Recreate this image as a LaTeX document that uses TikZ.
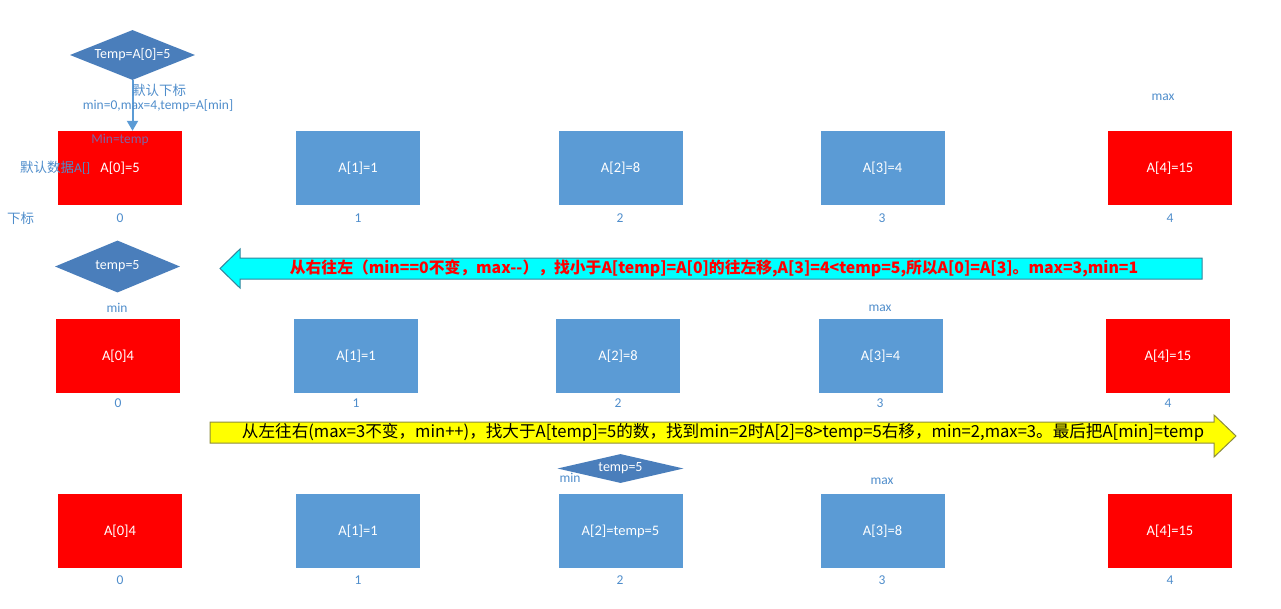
\documentclass[tikz,border=0pt]{standalone}
\usepackage{fontspec}
\setmainfont{Carlito}
\newfontfamily\cjk{Noto Sans CJK SC}
\usetikzlibrary{shapes.geometric,arrows.meta}
\definecolor{boxblue}{RGB}{91,155,213}
\definecolor{diablue}{RGB}{74,126,187}
\definecolor{labelblue}{RGB}{79,141,203}
\definecolor{minpurple}{RGB}{128,100,162}
\definecolor{arrowcyan}{RGB}{0,255,255}
\definecolor{cyanline}{RGB}{49,133,156}
\definecolor{arrowyellow}{RGB}{255,255,0}
\definecolor{yellowline}{RGB}{140,140,60}
\begin{document}
\begin{tikzpicture}[x=1pt, y=-1pt]
    \tikzset{cell/.style={%
      rectangle,%
      minimum width=124pt,%
      minimum height=74pt,%
      inner sep=0pt,%
      text=white,%
      font=\fontsize{14.5}{16}\selectfont}%
    };
\tikzset{bluecell/.style={cell, fill=boxblue}};
\tikzset{redcell/.style={cell, fill=red}};
\tikzset{tempdia/.style={diamond, fill=diablue, inner sep=0pt, text=white, font=\fontsize{14}{16}\selectfont}};
\tikzset{note/.style={text=labelblue, inner sep=0pt, font=\fontsize{13.5}{15}\selectfont}};

\useasboundingbox (0,0) rectangle (1281,608);

%first row
\node[tempdia, aspect=2.5, minimum width=125pt, minimum height=50pt] (temp0) at (132.5,55) {Temp=A[0]=5};
\node[redcell] (a00) at (120,168) {A[0]=5};
\node[bluecell] (a01) at (358,168) {A[1]=1};
\node[bluecell] (a02) at (620.5,168) {A[2]=8};
\node[bluecell] (a03) at (882.5,168) {A[3]=4};
\node[redcell] (a04) at (1170,168) {A[4]=15};

\draw[boxblue, line width=2pt, -{Triangle[length=10pt,width=11pt]}] (temp0.south) -- (temp0.south |- a00.north);
\node[note, anchor=west] (defidx) at (132,90) {\cjk 默认下标};
\node[note] (defval) at (158,106) {min=0,max=4,temp=A[min]};
\node[note, text=minpurple] (mintemp) at (120,140) {Min=temp};
\node[note, anchor=west] (defdata) at (20,168) {{\cjk 默认数据}A[]};
\node[note, anchor=west] (idxname) at (7,218) {\cjk 下标};
\node[note] (max0) at (1163,97) {max};

\node[note] (i00) at (120,218) {0};
\node[note] (i01) at (358,218) {1};
\node[note] (i02) at (620,218) {2};
\node[note] (i03) at (882,218) {3};
\node[note] (i04) at (1170,218) {4};

%arrow to the left
\draw[fill=arrowcyan, draw=cyanline, line width=1pt] (1202,258) -- (240,258) -- (240,249) -- (220,268.5)
  -- (240,288) -- (240,279) -- (1202,279) -- cycle;
\node[text=red, font=\cjk\bfseries\fontsize{15.8}{18}\selectfont] (leftmsg) at (714,268.5)
  {从右往左（min==0不变，max-{}-），找小于A[temp]=A[0]的往左移,A[3]=4<temp=5,所以A[0]=A[3]。max=3,min=1};

%second row
\node[tempdia, aspect=2.4, minimum width=125pt, minimum height=52pt] (temp1) at (117.5,266.5) {temp=5};
\node[note] (min1) at (117,308) {min};
\node[note] (max1) at (880,308) {max};
\node[redcell] (a10) at (118,356) {A[0]4};
\node[bluecell] (a11) at (356,356) {A[1]=1};
\node[bluecell] (a12) at (618,356) {A[2]=8};
\node[bluecell] (a13) at (880.5,356) {A[3]=4};
\node[redcell] (a14) at (1168,356) {A[4]=15};

\node[note] (i10) at (118,403) {0};
\node[note] (i11) at (356,403) {1};
\node[note] (i12) at (618,403) {2};
\node[note] (i13) at (880,403) {3};
\node[note] (i14) at (1168,403) {4};

%arrow to the right
\draw[fill=arrowyellow, draw=yellowline, line width=1pt] (210,422) -- (1214,422) -- (1214,415) -- (1236,436)
  -- (1214,457) -- (1214,443) -- (210,443) -- cycle;
\node[text=black, font=\cjk\fontsize{16.6}{19}\selectfont] (rightmsg) at (723,432.5)
  {从左往右(max=3不变，min++)，找大于A[temp]=5的数，找到min=2时A[2]=8>temp=5右移，min=2,max=3。最后把A[min]=temp};

%third row
\node[tempdia, aspect=4.3, minimum width=126pt, minimum height=29pt] (temp2) at (620.5,468.5) {temp=5};
\node[note] (min2) at (570,478) {min};
\node[note] (max2) at (882,481) {max};
\node[redcell] (a20) at (120,531) {A[0]4};
\node[bluecell] (a21) at (358,531) {A[1]=1};
\node[bluecell] (a22) at (620.5,531) {A[2]=temp=5};
\node[bluecell] (a23) at (882.5,531) {A[3]=8};
\node[redcell] (a24) at (1170,531) {A[4]=15};

\node[note] (i20) at (120,580) {0};
\node[note] (i21) at (358,580) {1};
\node[note] (i22) at (620,580) {2};
\node[note] (i23) at (882,580) {3};
\node[note] (i24) at (1170,580) {4};

\end{tikzpicture}
\end{document}
